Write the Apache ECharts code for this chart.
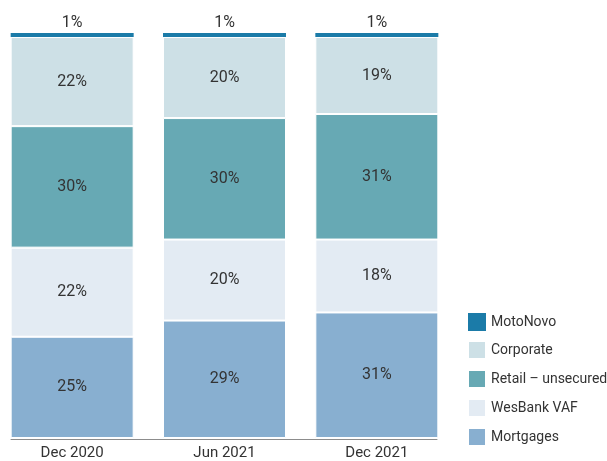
<!DOCTYPE html>
<html><head><meta charset="utf-8">
<script src="https://cdn.jsdelivr.net/npm/echarts@6/dist/echarts.min.js"></script>
<style>html,body{margin:0;padding:0;background:#fff;overflow:hidden}#c{position:absolute;left:-4px;top:0;width:611px;height:461px}</style>
</head><body><div id="c"></div>
<script>
const categories = ['Dec 2020', 'Jun 2021', 'Dec 2021'];
const mortgages = [25, 29, 31];
const wesbankVAF = [22, 20, 18];
const retailUnsecured = [30, 30, 31];
const corporate = [22, 20, 19];
const motoNovo = [1, 1, 1];
const seriesNames = ['Mortgages', 'WesBank VAF', 'Retail – unsecured', 'Corporate', 'MotoNovo'];
const colors = ['#88afd0', '#e3ebf3', '#67a9b4', '#cde0e6', '#1b7ba8'];
const dataSets = [mortgages, wesbankVAF, retailUnsecured, corporate, motoNovo];

const FONT = 'Roboto, "Liberation Sans", Arial, sans-serif';
const chart = echarts.init(document.getElementById('c'), null, {renderer: 'canvas'});
const series = seriesNames.map((n, i) => ({
  name: n, type: 'bar', stack: 'total', data: dataSets[i],
  xAxisIndex: 0, yAxisIndex: 0,
  barWidth: 123,
  itemStyle: {color: colors[i], borderColor: '#fff', borderWidth: i === 4 ? 0 : 1},
  label: {
    show: true, position: i === 4 ? 'top' : 'inside', distance: 2,
    formatter: p => p.value + '%', fontFamily: FONT, fontSize: 16, color: '#333'
  }
}));
chart.setOption({
  animation: false,
  textStyle: {fontFamily: FONT},
  grid: [
    {left: 0, right: 154, top: 33, bottom: 22},
    {left: 15, right: 170, top: 33, bottom: 22}
  ],
  xAxis: [
    {type: 'category', data: categories, gridIndex: 0,
     axisLine: {show: false}, axisTick: {show: false},
     axisLabel: {fontFamily: FONT, fontSize: 15, color: '#333', margin: 8}},
    {type: 'category', data: categories, gridIndex: 1,
     axisLine: {show: true, lineStyle: {color: '#8c8c8c', width: 1}}, axisTick: {show: false},
     axisLabel: {show: false}}
  ],
  yAxis: [
    {type: 'value', min: 0, max: 100, gridIndex: 0, show: false},
    {type: 'value', min: 0, max: 100, gridIndex: 1, show: false}
  ],
  legend: {
    orient: 'vertical', left: 471, top: 313, padding: 0,
    data: seriesNames.slice().reverse(),
    itemWidth: 18, itemHeight: 18, itemGap: 9,
    icon: 'rect',
    textStyle: {fontFamily: FONT, fontSize: 14, color: '#333'}
  },
  series: series
});
</script></body></html>
